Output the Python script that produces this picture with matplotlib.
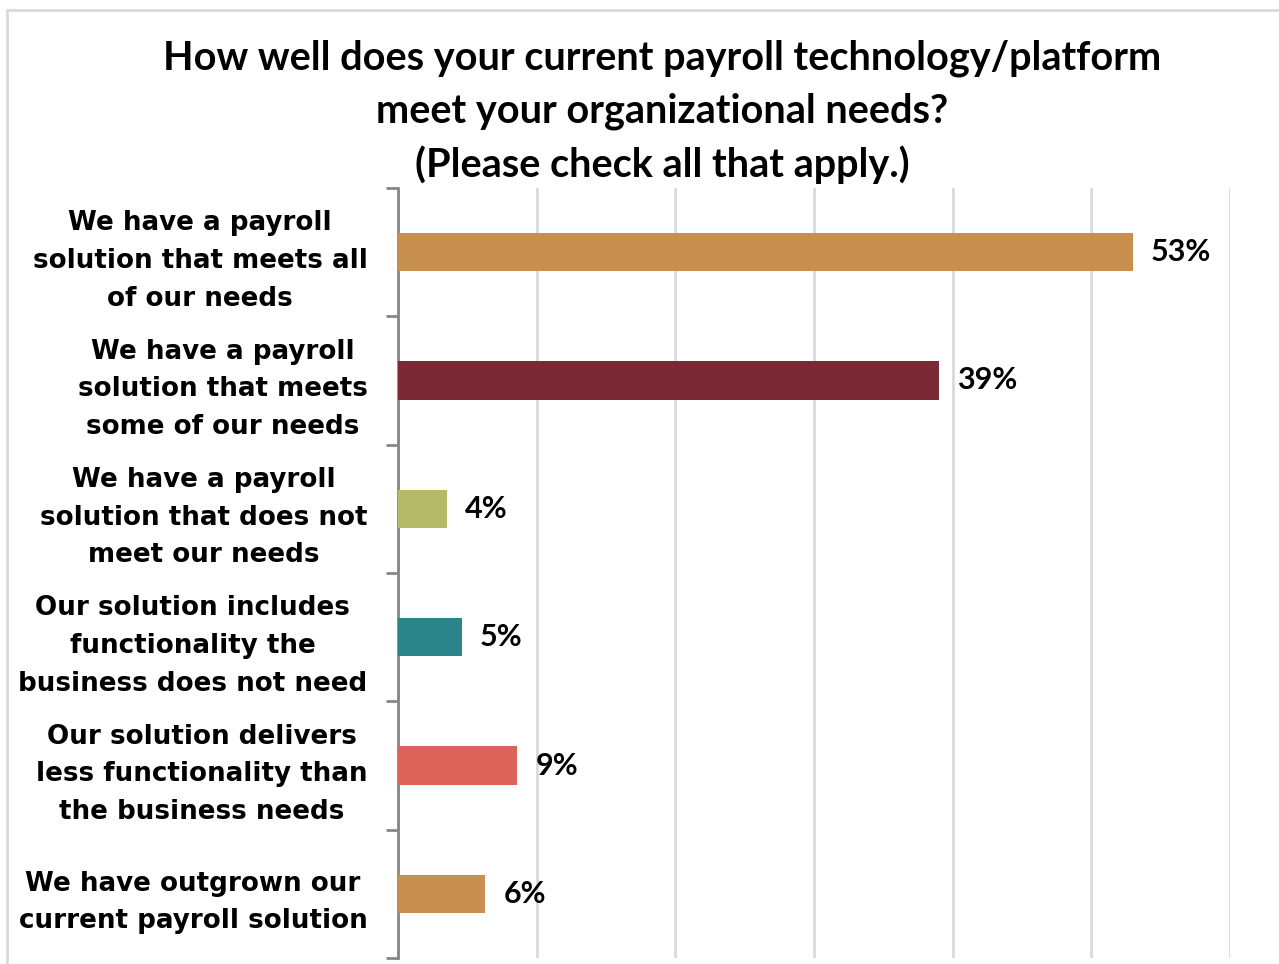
import matplotlib.pyplot as plt
from matplotlib.patches import Rectangle

categories = [
    "We have a payroll\nsolution that meets all\nof our needs",
    "We have a payroll\nsolution that meets\nsome of our needs",
    "We have a payroll\nsolution that does not\nmeet our needs",
    "Our solution includes\nfunctionality the\nbusiness does not need",
    "Our solution delivers\nless functionality than\nthe business needs",
    "We have outgrown our\ncurrent payroll solution",
]
values = [53.0, 39.0, 3.5, 4.6, 8.6, 6.3]
value_labels = ["53%", "39%", "4%", "5%", "9%", "6%"]
colors = ["#C8904F", "#7B2935", "#B5B96A", "#2A848A", "#DC635A", "#C8904F"]
title = ("How well does your current payroll technology/platform\n"
         "meet your organizational needs?\n(Please check all that apply.)")

fig = plt.figure(figsize=(12.79, 9.64), dpi=100)
ax = fig.add_axes([0.3112, 0.0062, 0.6505, 0.7988])

y = list(range(len(categories)))
ax.barh(y, values, height=0.3, color=colors, zorder=3)
ax.set_ylim(len(categories) - 0.5, -0.5)
ax.set_xlim(0, 60)
ax.set_xticks(range(0, 61, 10))
ax.tick_params(axis="x", length=0, labelbottom=False)
ax.grid(axis="x", color="#D9D9D9", lw=2, zorder=0)

ax.set_yticks(y)
ax.set_yticklabels(categories, fontsize=18.8, fontweight="bold",
                   family="DejaVu Sans", multialignment="center",
                   linespacing=1.58)
ax.tick_params(axis="y", length=0, pad=22)
ax.set_yticks([i - 0.5 for i in range(len(categories) + 1)], minor=True)
ax.tick_params(axis="y", which="minor", length=9, width=2, color="#868686")

for s in ["top", "right", "bottom"]:
    ax.spines[s].set_visible(False)
ax.spines["left"].set_color("#868686")
ax.spines["left"].set_linewidth(2)

for yi, v, lab in zip(y, values, value_labels):
    ax.text(v + 1.3, yi, lab, va="center", ha="left", fontsize=22,
            fontweight="bold", family="Lato")

fig.text(0.518, 0.884, title, ha="center", va="center", fontsize=28.5,
         fontweight="bold", family="Lato", linespacing=1.5)

fig.patches.append(Rectangle((0.0055, -0.05), 1.1, 1.04, transform=fig.transFigure,
                             fill=False, edgecolor="#D9D9D9", lw=2))

plt.savefig("out.png", dpi=100)
